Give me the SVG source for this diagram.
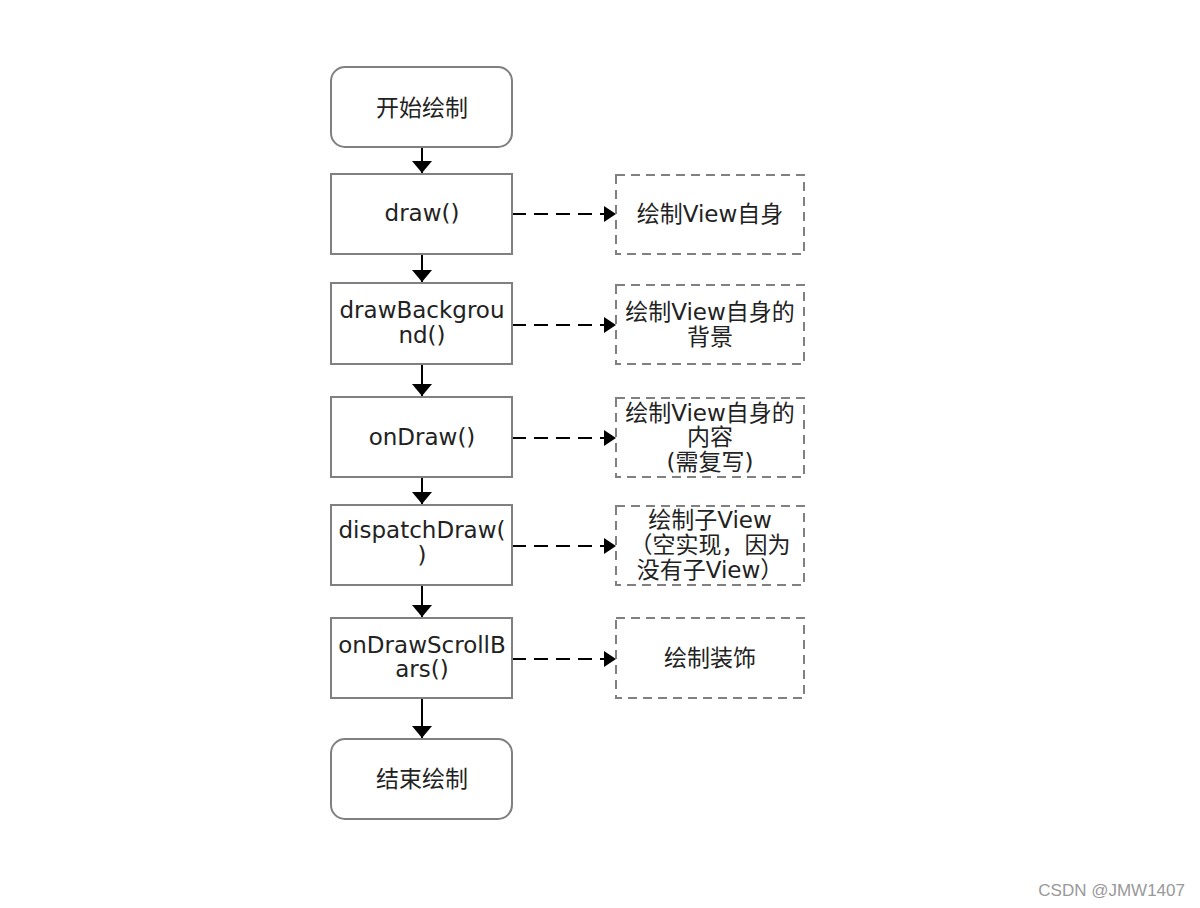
<svg xmlns="http://www.w3.org/2000/svg" width="1200" height="908" viewBox="0 0 1200 908">
<style>
.box{fill:#fff;stroke:#808080;stroke-width:2}
.dbox{fill:#fff;stroke:#808080;stroke-width:2;stroke-dasharray:9 6}
.t{font-family:"DejaVu Sans","Noto Sans CJK SC",sans-serif;font-size:23px;fill:#222;text-anchor:middle}
.c{font-family:"DejaVu Sans","Noto Sans CJK SC",sans-serif;font-size:23px;fill:#222;text-anchor:middle}
.s{font-family:"DejaVu Sans","Noto Sans CJK SC",sans-serif;font-size:23px;fill:#222;text-anchor:middle}
.ln{stroke:#000;stroke-width:2;fill:none}
.dl{stroke:#000;stroke-width:2;fill:none;stroke-dasharray:14 8}
.wm{font-family:"Liberation Sans",sans-serif;font-size:17px;fill:#999}
</style>
<defs>
<marker id="ah" viewBox="0 0 12 16" refX="12" refY="8" markerWidth="12" markerHeight="16" markerUnits="userSpaceOnUse" orient="auto"><path d="M0,0 L12,8 L0,16 Z" fill="#000"/></marker>
<marker id="av" viewBox="0 0 12 20" refX="12" refY="10" markerWidth="12" markerHeight="20" markerUnits="userSpaceOnUse" orient="auto"><path d="M0,0 L12,10 L0,20 Z" fill="#000"/></marker>
</defs>
<rect width="1200" height="908" fill="#fff"/>
<g id="connectors">
<line class="ln" x1="422" y1="147" x2="422" y2="173" marker-end="url(#av)"/>
<line class="ln" x1="422" y1="254" x2="422" y2="282" marker-end="url(#av)"/>
<line class="ln" x1="422" y1="364" x2="422" y2="396" marker-end="url(#av)"/>
<line class="ln" x1="422" y1="477" x2="422" y2="504" marker-end="url(#av)"/>
<line class="ln" x1="422" y1="585" x2="422" y2="617" marker-end="url(#av)"/>
<line class="ln" x1="422" y1="698" x2="422" y2="738" marker-end="url(#av)"/>
<line class="dl" x1="512" y1="214" x2="616" y2="214" marker-end="url(#ah)"/>
<line class="dl" x1="512" y1="325" x2="616" y2="325" marker-end="url(#ah)"/>
<line class="dl" x1="512" y1="438" x2="616" y2="438" marker-end="url(#ah)"/>
<line class="dl" x1="512" y1="546" x2="616" y2="546" marker-end="url(#ah)"/>
<line class="dl" x1="512" y1="659" x2="616" y2="659" marker-end="url(#ah)"/>
</g>
<g id="start"><rect class="box" x="331" y="67" width="181" height="80" rx="14"/><text class="c" x="422" y="116">开始绘制</text></g>
<g id="draw"><rect class="box" x="331" y="174" width="181" height="80"/><text class="t" x="422" y="221">draw()</text></g>
<g id="drawBackground"><rect class="box" x="331" y="283" width="181" height="81"/><text class="t" x="422" y="318">drawBackgrou</text><text class="t" x="422" y="343">nd()</text></g>
<g id="onDraw"><rect class="box" x="331" y="397" width="181" height="80"/><text class="t" x="422" y="445">onDraw()</text></g>
<g id="dispatchDraw"><rect class="box" x="331" y="505" width="181" height="80"/><text class="t" x="422" y="538">dispatchDraw(</text><text class="t" x="422" y="563">)</text></g>
<g id="onDrawScrollBars"><rect class="box" x="331" y="618" width="181" height="80"/><text class="t" x="422" y="653">onDrawScrollB</text><text class="t" x="422" y="677">ars()</text></g>
<g id="end"><rect class="box" x="331" y="739" width="181" height="80" rx="14"/><text class="c" x="422" y="787">结束绘制</text></g>
<g id="n-self"><rect class="dbox" x="616" y="175" width="188" height="79"/><text class="c" x="710" y="222">绘制View自身</text></g>
<g id="n-bg"><rect class="dbox" x="616" y="285" width="188" height="79"/><text class="s" x="710" y="320">绘制View自身的</text><text class="s" x="710" y="345">背景</text></g>
<g id="n-content"><rect class="dbox" x="616" y="398" width="188" height="79"/><text class="s" x="710" y="421">绘制View自身的</text><text class="s" x="710" y="445">内容</text><text class="s" x="710" y="470">(需复写)</text></g>
<g id="n-child"><rect class="dbox" x="616" y="506" width="188" height="79"/><text class="s" x="710" y="528">绘制子View</text><text class="s" x="710" y="553">（空实现，因为</text><text class="s" x="710" y="578">没有子View）</text></g>
<g id="n-deco"><rect class="dbox" x="616" y="618" width="188" height="80"/><text class="c" x="710" y="666">绘制装饰</text></g>
<text class="wm" x="1185" y="896" text-anchor="end">CSDN @JMW1407</text>
</svg>
